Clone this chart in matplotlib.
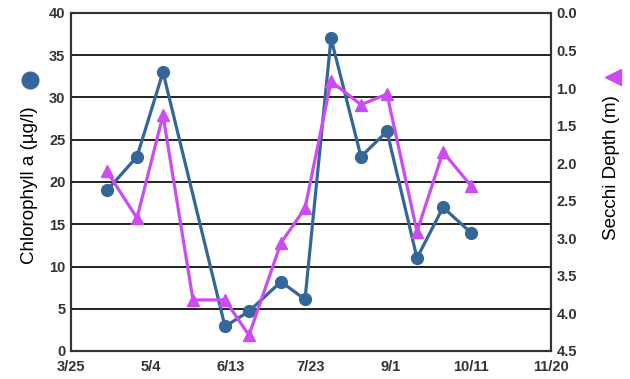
import pandas as pd
import matplotlib
matplotlib.use("Agg")
import matplotlib.pyplot as plt
import matplotlib.dates as mdates
from matplotlib.lines import Line2D

plt.rcParams["font.family"] = ["Liberation Sans", "DejaVu Sans"]

# Sampling dates
chl_dates = ["2010-04-12", "2010-04-27", "2010-05-10", "2010-06-10", "2010-06-22",
             "2010-07-08", "2010-07-20", "2010-08-02", "2010-08-17", "2010-08-30",
             "2010-09-14", "2010-09-27", "2010-10-11"]
chl_values = [19.0, 23.0, 33.0, 2.9, 4.7, 8.2, 6.1, 37.0, 23.0, 26.0, 11.0, 17.0, 14.0]

secchi_dates = ["2010-04-12", "2010-04-27", "2010-05-10", "2010-05-25", "2010-06-10",
                "2010-06-22", "2010-07-08", "2010-07-20", "2010-08-02", "2010-08-17",
                "2010-08-30", "2010-09-14", "2010-09-27", "2010-10-11"]
secchi_values = [2.11, 2.73, 1.36, 3.82, 3.82, 4.29, 3.06, 2.6, 0.91, 1.22,
                 1.08, 2.91, 1.85, 2.3]

x_ticks = ["2010-03-25", "2010-05-04", "2010-06-13", "2010-07-23",
           "2010-09-01", "2010-10-11", "2010-11-20"]

blue = "#356698"
magenta = "#cc4cf4"
tick_color = "#333333"

fig = plt.figure(figsize=(6.3, 3.79), dpi=100)
ax = fig.add_axes([71 / 630, 1 - 351 / 379, 480 / 630, 338 / 379])
ax2 = ax.twinx()

ax.plot(pd.to_datetime(chl_dates), chl_values, color=blue, lw=2.3,
        marker="o", markersize=8.5, zorder=3)
ax2.plot(pd.to_datetime(secchi_dates), secchi_values, color=magenta, lw=2.3,
         marker="^", markersize=9, zorder=3)

ticks = pd.to_datetime(x_ticks)
ax.set_xlim(ticks[0], ticks[-1])
ax.set_xticks(ticks)
ax.xaxis.set_major_formatter(mdates.DateFormatter("%-m/%-d"))
ax.set_ylim(0, 40)
ax.set_yticks(range(0, 41, 5))
ax2.set_ylim(4.5, 0)
ax2.set_yticks([i * 0.5 for i in range(10)])
ax2.set_yticklabels([f"{i * 0.5:.1f}" for i in range(10)])

ax.grid(axis="y", color="#111111", lw=1.3)
ax.set_axisbelow(True)
for a in (ax, ax2):
    for s in a.spines.values():
        s.set_color(tick_color)
        s.set_linewidth(1.5)
    a.tick_params(length=0, labelsize=10.5, labelcolor=tick_color)
    for lab in a.get_yticklabels() + a.get_xticklabels():
        lab.set_fontweight("bold")
ax.tick_params(axis="x", pad=6.5)
ax.tick_params(axis="y", pad=4)
ax2.tick_params(axis="y", pad=4)

# axis titles with their marker symbols
fig.text(30 / 630, 1 - 185 / 379, "Chlorophyll a (µg/l)", rotation=90,
         ha="center", va="center", fontsize=13.5)
fig.add_artist(Line2D([30 / 630], [1 - 80 / 379], marker="o", markersize=12,
                      color=blue, transform=fig.transFigure))
fig.text(612 / 630, 1 - 168 / 379, "Secchi Depth (m)", rotation=90,
         ha="center", va="center", fontsize=13.5)
fig.add_artist(Line2D([613 / 630], [1 - 77 / 379], marker="<", markersize=12,
                      color=magenta, transform=fig.transFigure))

plt.savefig("out.png", dpi=100)
